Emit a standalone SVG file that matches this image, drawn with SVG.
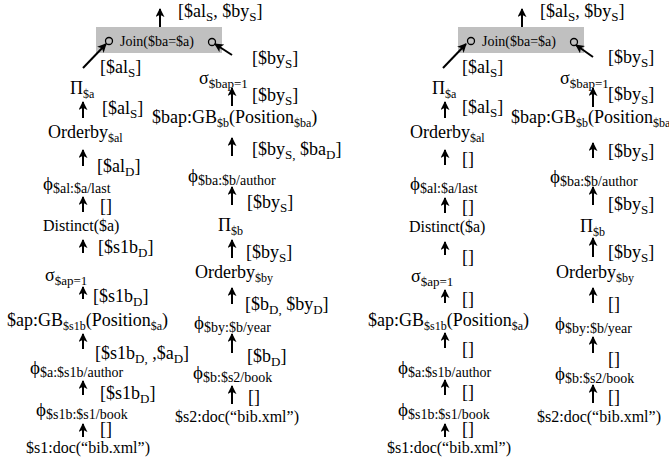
<svg xmlns="http://www.w3.org/2000/svg" width="669" height="463" viewBox="0 0 669 463">
<style>
.t{font-family:"Liberation Serif","Times New Roman",serif;font-size:18px;fill:#000}
.s{font-size:13px}
.ss{font-size:12px}
.ps{font-size:14px}
.ph{font-size:19px}
.sm{font-size:16px}
.jn{font-size:14px}
.c{stroke:#000;stroke-width:2;fill:none;marker-end:url(#ah)}
.box{fill:#c0c0c0}
.port{fill:none;stroke:#000;stroke-width:1.3}
</style>
<defs>
<marker id="ah" viewBox="0 0 10 10" refX="9" refY="5" markerWidth="9" markerHeight="9" markerUnits="userSpaceOnUse" orient="auto"><path d="M0,0 L10,5 L0,10 L2.5,5 z" fill="#000"/></marker>
</defs>

<!-- LEFT PANEL -->
<g id="panel-left">
<g id="L-join"><rect class="box" x="96" y="27" width="126" height="26"/><text class="t jn" x="120" y="46">Join($ba=$a)</text><circle class="port" cx="109" cy="41" r="3.5"/><circle class="port" cx="212" cy="42" r="3.5"/></g>
<g id="L-proj-a"><text class="t" x="70" y="94">Π<tspan class="ss" dy="4">$a</tspan></text></g>
<g id="L-orderby-al"><text class="t" x="48" y="138">Orderby<tspan class="ss" dy="4">$al</tspan></text></g>
<g id="L-phi-al"><text class="t" x="43" y="190"><tspan class="ph">ϕ</tspan><tspan class="ps" dy="3">$al:$a/last</tspan></text></g>
<g id="L-distinct"><text class="t sm" x="43" y="231">Distinct($a)</text></g>
<g id="L-sigma-ap"><text class="t" x="45" y="281">σ<tspan class="s" dy="4">$ap=1</tspan></text></g>
<g id="L-gb-ap"><text class="t" x="7" y="326">$ap:GB<tspan class="ss" dy="4">$s1b</tspan><tspan dy="-4">(Position</tspan><tspan class="ss" dy="4">$a</tspan><tspan dy="-4">)</tspan></text></g>
<g id="L-phi-a"><text class="t" x="30" y="374"><tspan class="ph">ϕ</tspan><tspan class="ps" dy="3">$a:$s1b/author</tspan></text></g>
<g id="L-phi-s1b"><text class="t" x="36" y="416"><tspan class="ph">ϕ</tspan><tspan class="ps" dy="3">$s1b:$s1/book</tspan></text></g>
<g id="L-doc1"><text class="t sm" x="26" y="453">$s1:doc(“bib.xml”)</text></g>
<g id="L-sigma-bap"><text class="t" x="199" y="84">σ<tspan class="s" dy="4">$bap=1</tspan></text></g>
<g id="L-gb-bap"><text class="t" x="152" y="123">$bap:GB<tspan class="ss" dy="4">$b</tspan><tspan dy="-4">(Position</tspan><tspan class="ss" dy="4">$ba</tspan><tspan dy="-4">)</tspan></text></g>
<g id="L-phi-ba"><text class="t" x="188" y="182"><tspan class="ph">ϕ</tspan><tspan class="ps" dy="3">$ba:$b/author</tspan></text></g>
<g id="L-proj-b"><text class="t" x="218" y="231">Π<tspan class="ss" dy="4">$b</tspan></text></g>
<g id="L-orderby-by"><text class="t" x="195" y="278">Orderby<tspan class="ss" dy="4">$by</tspan></text></g>
<g id="L-phi-by"><text class="t" x="194" y="329"><tspan class="ph">ϕ</tspan><tspan class="ps" dy="3">$by:$b/year</tspan></text></g>
<g id="L-phi-b"><text class="t" x="193" y="379"><tspan class="ph">ϕ</tspan><tspan class="ps" dy="3">$b:$s2/book</tspan></text></g>
<g id="L-doc2"><text class="t sm" x="175" y="422">$s2:doc(“bib.xml”)</text></g>

<g id="L-connectors">
<line class="c" x1="160" y1="27" x2="160" y2="9"/>
<line class="c" x1="83" y1="68" x2="106" y2="44"/>
<line class="c" x1="232" y1="55" x2="215" y2="44"/>
<line class="c" x1="83" y1="118" x2="83" y2="102"/>
<line class="c" x1="83" y1="166" x2="83" y2="150"/>
<line class="c" x1="83" y1="212" x2="83" y2="197"/>
<line class="c" x1="83" y1="253" x2="83" y2="240"/>
<line class="c" x1="83" y1="299" x2="83" y2="287"/>
<line class="c" x1="83" y1="349" x2="83" y2="334"/>
<line class="c" x1="83" y1="395" x2="83" y2="381"/>
<line class="c" x1="83" y1="437" x2="83" y2="424"/>
<line class="c" x1="232" y1="106" x2="232" y2="88"/>
<line class="c" x1="232" y1="156" x2="232" y2="138"/>
<line class="c" x1="232" y1="205" x2="232" y2="187"/>
<line class="c" x1="232" y1="258" x2="232" y2="240"/>
<line class="c" x1="232" y1="304" x2="232" y2="288"/>
<line class="c" x1="232" y1="353" x2="232" y2="334"/>
<line class="c" x1="232" y1="404" x2="232" y2="386"/>
</g>
<g id="L-labels">
<text class="t" x="178" y="17">[$al<tspan class="s" dy="4">S</tspan><tspan dy="-4">, $by</tspan><tspan class="s" dy="4">S</tspan><tspan dy="-4">]</tspan></text>
<text class="t" x="100" y="73">[$al<tspan class="s" dy="4">S</tspan><tspan dy="-4">]</tspan></text>
<text class="t" x="252" y="64">[$by<tspan class="s" dy="4">S</tspan><tspan dy="-4">]</tspan></text>
<text class="t" x="102" y="114">[$al<tspan class="s" dy="4">S</tspan><tspan dy="-4">]</tspan></text>
<text class="t" x="97" y="172">[$al<tspan class="s" dy="4">D</tspan><tspan dy="-4">]</tspan></text>
<text class="t" x="100" y="212">[]</text>
<text class="t" x="98" y="253">[$s1b<tspan class="s" dy="4">D</tspan><tspan dy="-4">]</tspan></text>
<text class="t" x="93" y="302">[$s1b<tspan class="s" dy="4">D</tspan><tspan dy="-4">]</tspan></text>
<text class="t" x="95" y="359">[$s1b<tspan class="s" dy="4">D,</tspan><tspan dy="-4">  ,$a</tspan><tspan class="s" dy="4">D</tspan><tspan dy="-4">]</tspan></text>
<text class="t" x="100" y="399">[$s1b<tspan class="s" dy="4">D</tspan><tspan dy="-4">]</tspan></text>
<text class="t" x="100" y="435">[]</text>
<text class="t" x="252" y="101">[$by<tspan class="s" dy="4">S</tspan><tspan dy="-4">]</tspan></text>
<text class="t" x="252" y="155">[$by<tspan class="s" dy="4">S,</tspan><tspan dy="-4"> $ba</tspan><tspan class="s" dy="4">D</tspan><tspan dy="-4">]</tspan></text>
<text class="t" x="247" y="208">[$by<tspan class="s" dy="4">S</tspan><tspan dy="-4">]</tspan></text>
<text class="t" x="246" y="258">[$by<tspan class="s" dy="4">S</tspan><tspan dy="-4">]</tspan></text>
<text class="t" x="245" y="310">[$b<tspan class="s" dy="4">D,</tspan><tspan dy="-4"> $by</tspan><tspan class="s" dy="4">D</tspan><tspan dy="-4">]</tspan></text>
<text class="t" x="247" y="362">[$b<tspan class="s" dy="4">D</tspan><tspan dy="-4">]</tspan></text>
<text class="t" x="248" y="403">[]</text>
</g>
</g>

<!-- RIGHT PANEL -->
<g id="panel-right" transform="translate(362,0)">
<g id="R-join"><rect class="box" x="96" y="27" width="126" height="26"/><text class="t jn" x="120" y="46">Join($ba=$a)</text><circle class="port" cx="109" cy="41" r="3.5"/><circle class="port" cx="212" cy="42" r="3.5"/></g>
<g id="R-proj-a"><text class="t" x="70" y="94">Π<tspan class="ss" dy="4">$a</tspan></text></g>
<g id="R-orderby-al"><text class="t" x="48" y="138">Orderby<tspan class="ss" dy="4">$al</tspan></text></g>
<g id="R-phi-al"><text class="t" x="48" y="190"><tspan class="ph">ϕ</tspan><tspan class="ps" dy="3">$al:$a/last</tspan></text></g>
<g id="R-distinct"><text class="t sm" x="47" y="232">Distinct($a)</text></g>
<g id="R-sigma-ap"><text class="t" x="49" y="282">σ<tspan class="s" dy="4">$ap=1</tspan></text></g>
<g id="R-gb-ap"><text class="t" x="6" y="326">$ap:GB<tspan class="ss" dy="4">$s1b</tspan><tspan dy="-4">(Position</tspan><tspan class="ss" dy="4">$a</tspan><tspan dy="-4">)</tspan></text></g>
<g id="R-phi-a"><text class="t" x="36" y="374"><tspan class="ph">ϕ</tspan><tspan class="ps" dy="3">$a:$s1b/author</tspan></text></g>
<g id="R-phi-s1b"><text class="t" x="36" y="416"><tspan class="ph">ϕ</tspan><tspan class="ps" dy="3">$s1b:$s1/book</tspan></text></g>
<g id="R-doc1"><text class="t sm" x="25" y="453">$s1:doc(“bib.xml”)</text></g>
<g id="R-sigma-bap"><text class="t" x="198" y="84">σ<tspan class="s" dy="4">$bap=1</tspan></text></g>
<g id="R-gb-bap"><text class="t" x="149" y="123">$bap:GB<tspan class="ss" dy="4">$b</tspan><tspan dy="-4">(Position</tspan><tspan class="ss" dy="4">$ba</tspan><tspan dy="-4">)</tspan></text></g>
<g id="R-phi-ba"><text class="t" x="188" y="183"><tspan class="ph">ϕ</tspan><tspan class="ps" dy="3">$ba:$b/author</tspan></text></g>
<g id="R-proj-b"><text class="t" x="218" y="232">Π<tspan class="ss" dy="4">$b</tspan></text></g>
<g id="R-orderby-by"><text class="t" x="194" y="278">Orderby<tspan class="ss" dy="4">$by</tspan></text></g>
<g id="R-phi-by"><text class="t" x="193" y="330"><tspan class="ph">ϕ</tspan><tspan class="ps" dy="3">$by:$b/year</tspan></text></g>
<g id="R-phi-b"><text class="t" x="193" y="380"><tspan class="ph">ϕ</tspan><tspan class="ps" dy="3">$b:$s2/book</tspan></text></g>
<g id="R-doc2"><text class="t sm" x="175" y="422">$s2:doc(“bib.xml”)</text></g>

<g id="R-connectors">
<line class="c" x1="160" y1="27" x2="160" y2="9"/>
<line class="c" x1="81" y1="68" x2="104" y2="44"/>
<line class="c" x1="231" y1="57" x2="214" y2="45"/>
<line class="c" x1="83" y1="118" x2="83" y2="102"/>
<line class="c" x1="83" y1="165" x2="83" y2="150"/>
<line class="c" x1="83" y1="213" x2="83" y2="198"/>
<line class="c" x1="83" y1="255" x2="83" y2="242"/>
<line class="c" x1="83" y1="303" x2="83" y2="290"/>
<line class="c" x1="83" y1="348" x2="83" y2="333"/>
<line class="c" x1="83" y1="395" x2="83" y2="380"/>
<line class="c" x1="83" y1="437" x2="83" y2="424"/>
<line class="c" x1="231" y1="107" x2="231" y2="88"/>
<line class="c" x1="231" y1="158" x2="231" y2="143"/>
<line class="c" x1="231" y1="205" x2="231" y2="187"/>
<line class="c" x1="231" y1="257" x2="231" y2="238"/>
<line class="c" x1="231" y1="303" x2="231" y2="288"/>
<line class="c" x1="231" y1="353" x2="231" y2="337"/>
<line class="c" x1="231" y1="403" x2="231" y2="385"/>
</g>
<g id="R-labels">
<text class="t" x="178" y="17">[$al<tspan class="s" dy="4">S</tspan><tspan dy="-4">, $by</tspan><tspan class="s" dy="4">S</tspan><tspan dy="-4">]</tspan></text>
<text class="t" x="100" y="73">[$al<tspan class="s" dy="4">S</tspan><tspan dy="-4">]</tspan></text>
<text class="t" x="246" y="63">[$by<tspan class="s" dy="4">S</tspan><tspan dy="-4">]</tspan></text>
<text class="t" x="100" y="113">[$al<tspan class="s" dy="4">S</tspan><tspan dy="-4">]</tspan></text>
<text class="t" x="100" y="165">[]</text>
<text class="t" x="100" y="213">[]</text>
<text class="t" x="100" y="263">[]</text>
<text class="t" x="100" y="305">[]</text>
<text class="t" x="100" y="355">[]</text>
<text class="t" x="100" y="398">[]</text>
<text class="t" x="100" y="435">[]</text>
<text class="t" x="246" y="100">[$by<tspan class="s" dy="4">S</tspan><tspan dy="-4">]</tspan></text>
<text class="t" x="246" y="157">[$by<tspan class="s" dy="4">S</tspan><tspan dy="-4">]</tspan></text>
<text class="t" x="246" y="210">[$by<tspan class="s" dy="4">S</tspan><tspan dy="-4">]</tspan></text>
<text class="t" x="246" y="258">[$by<tspan class="s" dy="4">S</tspan><tspan dy="-4">]</tspan></text>
<text class="t" x="246" y="310">[]</text>
<text class="t" x="246" y="365">[]</text>
<text class="t" x="246" y="403">[]</text>
</g>
</g>
</svg>
